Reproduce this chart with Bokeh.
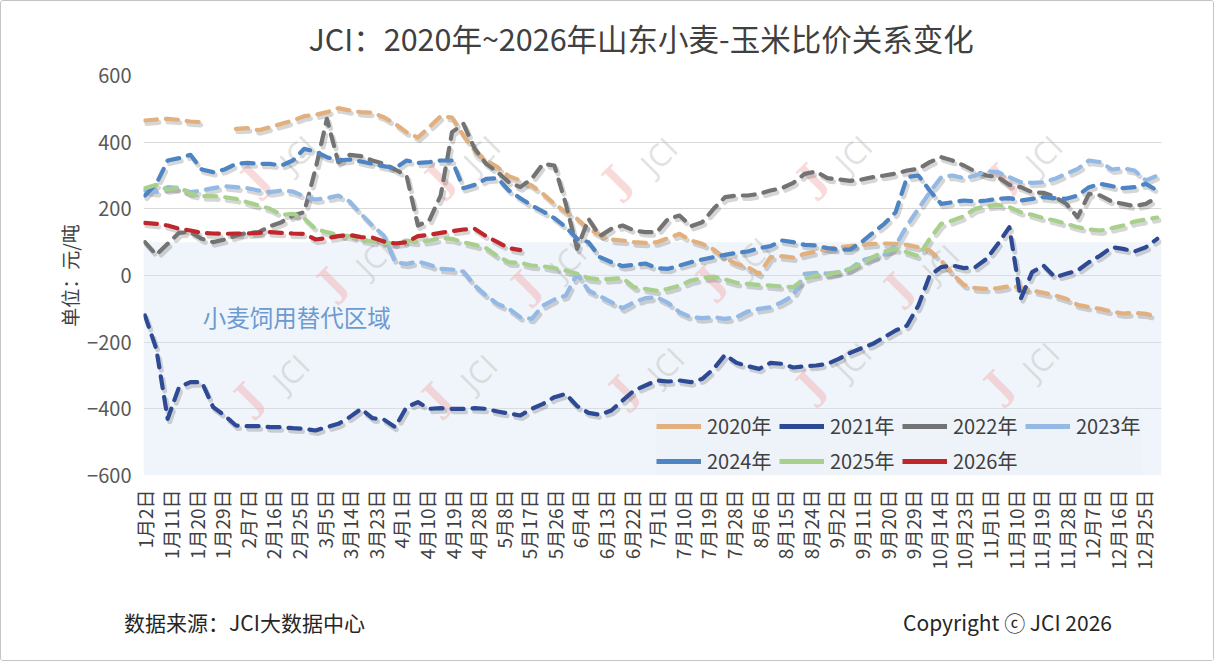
import math
from bokeh.plotting import figure
from bokeh.core.properties import value
from bokeh.models import (Range1d, FixedTicker, BoxAnnotation, Label, Legend, LegendItem,
                          LinearAxis)
from bokeh.embed import file_html
from bokeh.resources import INLINE

# ---------------- categories (days of the year shown on the axis) ----------------
MONTH_DAYS = [31, 29, 31, 30, 31, 30, 31, 31, 30, 31, 30, 31]
SKIPPED = {(1, 1), (5, 1), (10, 1), (10, 2), (10, 3), (10, 4), (10, 5), (10, 6)}
DATES = [f"{m}月{d}日" for m in range(1, 13) for d in range(1, MONTH_DAYS[m - 1] + 1)
         if (m, d) not in SKIPPED]
TICK_DATES = DATES[::9]          # labelled dates on the x axis
SAMPLE_DATES = DATES[::4]        # dates at which the series were read

Y_TICKS = [-600, -400, -200, 0, 200, 400, 600]
NaN = float("nan")

Y2020 = [465, 468, 470, 467, 462, 460, NaN, NaN, 440, 442, 436, 445, 455, 465, 478, 482, 490, 502,
         495, 490, 488, 475, 455, 430, 414, 445, 478, 474, 420, 375, 345, 325, 298, 285, 270, 245,
         215, 190, 170, 140, 122, 108, 105, 100, 98, 100, 112, 125, 105, 95, 78, 52, 35, 25, 5, 55,
         58, 54, 65, 72, 80, 85, 88, 92, 95, 96, 95, 92, 85, 75, 45, 5, -28, -38, -40, -38, -32,
         -36, -45, -52, -60, -70, -88, -95, -100, -108, -114, -112, -115, -124]
Y2021 = [-120, -220, -430, -335, -320, -320, -395, -420, -450, -452, -452, -455, -455, -458, -460,
         -465, -455, -445, -425, -400, -428, -432, -455, -395, -380, -400, -398, -400, -400, -398,
         -400, -408, -414, -420, -400, -385, -365, -355, -392, -412, -418, -405, -375, -345, -330,
         -315, -318, -315, -320, -310, -280, -238, -262, -272, -280, -262, -265, -276, -272, -270,
         -265, -250, -232, -218, -205, -185, -165, -150, -90, 0, 25, 30, 22, 25, 50, 95, 145, -70,
         10, 30, -5, 5, 15, 40, 60, 85, 80, 72, 85, 110]
Y2022 = [100, 62, 95, 128, 130, 110, 100, 108, 120, 128, 130, 148, 160, 180, 190, 320, 470, 340,
         362, 358, 345, 335, 318, 300, 150, 165, 240, 430, 455, 380, 335, 310, 280, 265, 290, 335,
         330, 215, 80, 170, 118, 140, 150, 135, 130, 130, 170, 180, 148, 160, 200, 235, 240, 240,
         245, 255, 262, 278, 305, 312, 292, 288, 284, 288, 295, 300, 306, 315, 320, 340, 355, 345,
         330, 312, 300, 295, 272, 265, 250, 248, 236, 215, 175, 245, 240, 222, 215, 208, 215, 235]
Y2023 = [255, 250, 265, 262, 250, 255, 262, 268, 265, 262, 255, 250, 255, 252, 238, 228, 232, 240,
         222, 185, 150, 120, 40, 35, 42, 32, 20, 18, 12, -30, -60, -85, -100, -125, -130, -90, -72,
         -60, 5, -45, -62, -80, -98, -80, -68, -65, -82, -110, -125, -128, -125, -130, -125, -108,
         -100, -95, -80, -60, 5, 8, 6, 10, 20, 45, 55, 62, 90, 150, 200, 250, 295, 300, 292, 300,
         312, 310, 295, 280, 278, 280, 290, 305, 320, 345, 340, 318, 322, 315, 285, 300]
Y2024 = [240, 275, 345, 352, 362, 318, 310, 318, 335, 338, 335, 335, 330, 345, 380, 372, 355, 345,
         348, 342, 335, 328, 322, 345, 338, 340, 345, 345, 262, 272, 290, 292, 255, 232, 210, 192,
         172, 145, 110, 100, 55, 40, 28, 32, 36, 22, 20, 30, 40, 48, 55, 62, 68, 72, 82, 88, 105,
         100, 92, 90, 82, 78, 78, 100, 128, 155, 190, 295, 300, 255, 215, 220, 225, 222, 225, 230,
         232, 225, 230, 235, 232, 230, 240, 265, 275, 268, 262, 265, 275, 255]
Y2025 = [262, 272, 258, 265, 245, 238, 238, 235, 230, 220, 210, 200, 182, 185, 172, 140, 130, 122,
         118, 108, 102, 98, 96, 105, 100, 105, 112, 110, 100, 92, 82, 58, 40, 38, 30, 28, 22, 15,
         5, -8, -12, -10, -8, -35, -40, -46, -40, -30, -15, -8, -3, -12, -22, -25, -28, -30, -33,
         -35, -10, 0, 2, 10, 20, 36, 55, 72, 80, 70, 58, 110, 155, 165, 178, 200, 208, 212, 205,
         190, 182, 172, 165, 155, 145, 138, 135, 142, 150, 162, 168, 174]
Y2026 = [158, 155, 150, 140, 135, 128, 126, 125, 126, 126, 128, 130, 128, 126, 125, 108, 112, 118,
         122, 115, 114, 102, 96, 100, 118, 122, 128, 133, 138, 140, 118, 100, 82, 76]

SERIES = [
    ("2020年", Y2020, "#E2B07F"),
    ("2021年", Y2021, "#2E4A94"),
    ("2022年", Y2022, "#737373"),
    ("2023年", Y2023, "#93B9E4"),
    ("2024年", Y2024, "#4D84C4"),
    ("2025年", Y2025, "#A8D08D"),
    ("2026年", Y2026, "#C0272D"),
]

# background watermark "JCI" (position as date index / value)
WM_X = [53.6, 118.3, 180.6, 249.1, 316.0, 80.4, 148.6, 213.6, 279.7, 51.2, 117.3, 183.0, 248.8, 314.9]
WM_Y = [366, 366, 360, 366, 366, 54, 45, 60, 39, -291, -291, -270, -255, -255]

TITLE = "JCI：2020年~2026年山东小麦-玉米比价关系变化"
ZONE_TEXT = "小麦饲用替代区域"
SOURCE = "数据来源：JCI大数据中心"
COPYRIGHT = "Copyright ⓒ JCI 2026"
FONT = "Noto Sans CJK SC"

# ---------------- figure ----------------
N = len(DATES)
W, H = 1214, 661
FL, FR, FT, FB = 142, 1160, 74, 474          # plot-frame edges in canvas pixels
p = figure(width=W, height=H, x_range=Range1d(-0.5, N - 0.5), y_range=Range1d(-600, 600),
           output_backend="svg", toolbar_location=None,
           min_border_left=FL, min_border_right=W - FR, min_border_top=FT,
           min_border_bottom=H - FB)
p.styles = {"border": "1px solid #C4C4C4", "border-radius": "3px"}
p.outline_line_color = None
p.background_fill_color = "white"
p.border_fill_color = "white"

p.title.text = TITLE
p.title.align = "left"
p.title.offset = 165
p.title.standoff = 28
p.title.vertical_align = "top"
p.title.text_font = FONT
p.title.text_font_size = "30.5px"
p.title.text_font_style = "normal"
p.title.text_color = "#404040"

p.extra_x_ranges = {"shx": Range1d(-0.5 - 0.7, N - 0.5 - 0.7), "px": Range1d(FL, FR)}
p.extra_y_ranges = {"shy": Range1d(-600 + 9, 600 + 9)}

# substitution zone
zone = BoxAnnotation(top=100, bottom=-600, fill_color="#D6E4F5", fill_alpha=0.36,
                     line_color=None, level="underlay")
p.add_layout(zone)

# axes
tick_idx = [DATES.index(d) for d in TICK_DATES]
p.xaxis.ticker = FixedTicker(ticks=tick_idx)
p.xaxis.major_label_overrides = {i: DATES[i] for i in tick_idx}
p.xaxis.major_label_orientation = math.pi / 2
p.xaxis.major_label_text_font = FONT
p.xaxis.major_label_text_font_size = "19px"
p.xaxis.major_label_text_color = "#404040"
p.xaxis.major_tick_line_color = None
p.xaxis.minor_tick_line_color = None
p.xaxis.major_tick_out = 0
p.xaxis.major_label_standoff = 14
p.xaxis.axis_line_color = None

p.yaxis.ticker = FixedTicker(ticks=Y_TICKS)
p.yaxis.major_label_text_font = FONT
p.yaxis.major_label_text_font_size = "20px"
p.yaxis.major_label_text_color = "#595959"
p.yaxis.major_tick_line_color = None
p.yaxis.minor_tick_line_color = None
p.yaxis.major_tick_out = 0
p.yaxis.major_label_standoff = 12
p.yaxis.axis_line_color = None
p.yaxis.axis_label = "单位：元/吨"
p.yaxis.axis_label_text_font = FONT
p.yaxis.axis_label_text_font_size = "19px"
p.yaxis.axis_label_text_font_style = "normal"
p.yaxis.axis_label_text_color = "#404040"
p.yaxis.axis_label_standoff = 1

p.xgrid.grid_line_color = None
p.ygrid.grid_line_color = "#D9D9D9"
p.ygrid.grid_line_width = 1

# footer line: source note and copyright, as labels of a bare axis below the date axis
FOOT_POS = {243: SOURCE, 1006: COPYRIGHT}
foot = LinearAxis(x_range_name="px", ticker=FixedTicker(ticks=list(FOOT_POS)),
                  major_label_overrides=FOOT_POS, axis_line_color=None,
                  major_tick_line_color=None, minor_tick_line_color=None, major_tick_out=0,
                  major_label_standoff=34, major_label_text_font=FONT,
                  major_label_text_font_size="21px", major_label_text_color="#262626")
p.add_layout(foot, "below")

# watermark (under the lines)
p.text(x=[x - 14.8 for x in WM_X], y=[y - 72 for y in WM_Y], text=["J"] * len(WM_X),
       angle=math.pi / 4, text_align="center", text_baseline="middle",
       text_font=value("DejaVu Serif"), text_font_size="40px", text_font_style="bold",
       text_color="#F3ABAB", text_alpha=0.45)
p.text(x=WM_X, y=WM_Y, text=["JCI"] * len(WM_X), angle=math.pi / 4, text_align="center",
       text_baseline="middle", text_font=value("Open Sans"), text_font_size="31px",
       text_color="#BDBDBD", text_alpha=0.45)

# series (soft shadow first, then the dashed lines)
x_pos = [DATES.index(d) for d in SAMPLE_DATES]
for label, vals, color in SERIES:
    n = len(vals)
    p.line(x_pos[:n], vals, x_range_name="shx", y_range_name="shy", line_color="black",
           line_alpha=0.16, line_width=5, line_dash="12 9", line_cap="round", line_join="round")
items = {}
for label, vals, color in SERIES:
    n = len(vals)
    p.line(x_pos[:n], vals, line_color=color, line_width=4.2, line_dash="12 9",
           line_cap="round", line_join="round")
    key = p.line(x=[0], y=[NaN], line_color=color, line_width=5)   # solid legend key
    items[label] = LegendItem(label=label, renderers=[key])

# legend fills column by column: arrange so rows read 2020-2023 / 2024-2026
order = ["2020年", "2024年", "2021年", "2025年", "2022年", "2026年", "2023年"]
legend = Legend(items=[items[k] for k in order], nrows=2, location=(513, 0),
                glyph_width=45, glyph_height=20, label_standoff=6, label_width=66,
                spacing=6, padding=4, margin=0, label_text_font=FONT,
                label_text_font_size="20px", label_text_color="#404040",
                background_fill_color="#EEF3FA", background_fill_alpha=1.0,
                border_line_color=None)
p.add_layout(legend)

p.add_layout(Label(x=20.3, y=-123, text=ZONE_TEXT, text_baseline="middle",
                   text_font=FONT, text_font_size="23.5px", text_color="#6B9BD1"))

open("out.html", "w").write(file_html(p, INLINE))
